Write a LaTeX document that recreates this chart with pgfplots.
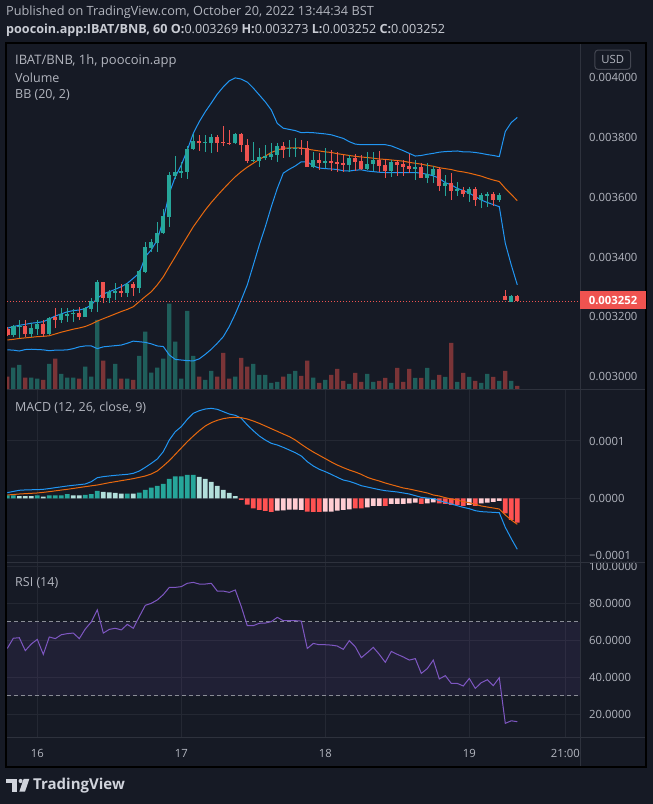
\documentclass[border=0pt]{standalone}
\usepackage{fontspec}
\setmainfont{Open Sans}
\usepackage{pgfplots}
\pgfplotsset{compat=1.18}
\usepackage{pgfplotstable}
\usepgfplotslibrary{fillbetween}

\definecolor{bg}{HTML}{161A25}
\definecolor{gridc}{HTML}{242833}
\definecolor{sepc}{HTML}{2E323D}
\definecolor{txt}{HTML}{B2B5BE}
\definecolor{txt2}{HTML}{C9CCD4}
\definecolor{cgreen}{HTML}{26A69A}
\definecolor{cred}{HTML}{EF5350}
\definecolor{vgreen}{HTML}{1F5E5B}
\definecolor{vred}{HTML}{7A3437}
\definecolor{bbblue}{HTML}{2196F3}
\definecolor{bborange}{HTML}{E8690E}
\definecolor{hteal}{HTML}{26A69A}
\definecolor{hlight}{HTML}{B2DFDB}
\definecolor{hred}{HTML}{FF5252}
\definecolor{hpink}{HTML}{FFCDD2}
\definecolor{rsic}{HTML}{7E57C2}
\definecolor{dashc}{HTML}{8A8D96}
\definecolor{usdc}{HTML}{434651}
\definecolor{logoc}{HTML}{D1D4DC}

\pgfplotstableread{
h O H L C V
-4 3140 3173 3132 3170 22.3
-3 3165 3188 3130 3168 25
-1 3143 3179 3134 3162 12.3
0 3160 3188 3140 3176 11.3
2 3143 3201 3140 3195 26
4 3190 3229 3179 3208 16
5 3204 3229 3184 3210 12.3
6 3208 3225 3184 3214 12.3
8 3201 3234 3199 3229 23.3
9 3227 3262 3218 3253 13.3
10 3251 3323 3218 3316 70
12 3264 3290 3248 3283 11.3
13 3280 3312 3257 3287 26
15 3281 3312 3268 3309 11.3
17 3298 3357 3279 3352 34
18 3351 3450 3346 3434 58.3
19 3430 3459 3418 3450 17.3
20 3448 3517 3418 3479 22.3
21 3479 3559 3477 3537 31.3
22 3535 3685 3501 3674 86.3
23 3672 3737 3659 3684 48.3
24 3680 3718 3663 3687 11.3
25 3685 3769 3660 3761 79
26 3760 3811 3758 3787 34
28 3782 3808 3752 3785 10
29 3782 3811 3746 3800 19
33 3779 3815 3777 3811 13.3
36 3721 3784 3718 3724 26
37 3722 3763 3702 3734 15
38 3732 3774 3724 3737 15
39 3735 3780 3724 3745 7
40 3741 3780 3718 3771 8
42 3760 3792 3733 3764 16
43 3760 3796 3735 3764 19
46 3702 3749 3696 3724 12.3
48 3715 3763 3696 3721 10
52 3707 3741 3685 3731 6
55 3694 3749 3690 3711 16
56 3710 3752 3688 3724 8
59 3687 3724 3668 3717 7
63 3694 3724 3657 3700 12
65 3664 3713 3646 3677 22
66 3674 3704 3648 3693 10
68 3637 3674 3604 3646 13
70 3622 3652 3604 3626 8
72 3612 3635 3585 3627 13
74 3590 3615 3562 3607 7
75 3605 3618 3568 3609 16
77 3590 3613 3585 3607 9
79 3251 3273 3249 3270 9
}\greentab

\pgfplotstableread{
h O H L C V
-5 3159 3165 3135 3139 13.3
-2 3170 3190 3134 3143 12.3
1 3176 3190 3134 3143 10
3 3199 3229 3162 3190 31.3
7 3212 3234 3190 3201 11.3
11 3316 3318 3245 3264 29.3
14 3287 3310 3265 3280 11.3
16 3310 3318 3271 3298 10
27 3787 3808 3755 3782 13.3
30 3800 3808 3752 3782 13.3
31 3784 3838 3769 3779 37
32 3782 3824 3774 3777 11.3
34 3811 3815 3749 3773 32
35 3774 3793 3713 3722 23.3
41 3771 3785 3730 3757 13.3
44 3764 3790 3741 3760 14
45 3763 3788 3700 3702 29.3
47 3724 3746 3691 3715 7
49 3721 3757 3688 3715 15
50 3717 3752 3685 3711 21
51 3715 3741 3685 3708 9
53 3731 3744 3688 3718 17
54 3721 3741 3691 3694 8
57 3724 3754 3685 3704 9
58 3707 3726 3665 3687 12
60 3717 3724 3671 3708 22
61 3711 3724 3671 3702 8
62 3704 3744 3680 3694 21
64 3702 3713 3663 3664 12
67 3693 3702 3621 3637 15
69 3646 3680 3590 3621 47
71 3624 3635 3599 3612 17
73 3627 3633 3570 3590 9
76 3610 3618 3570 3590 13
78 3270 3290 3257 3257 19
80 3269 3273 3252 3252 4
}\redtab

\pgfplotstableread{
h up mid lo
-5 3162 3123 3090
-4 3168 3125 3089
-3 3172 3128 3086
-2 3175 3130 3091
-1 3179 3132 3092
0 3181 3134 3091
1 3184 3135 3090
2 3193 3137 3087
3 3203 3143 3089
4 3210 3149 3089
5 3217 3154 3090
6 3221 3159 3094
7 3223 3163 3100
8 3228 3168 3103
9 3240 3176 3103
10 3262 3186 3094
11 3277 3194 3100
12 3284 3202 3102
13 3292 3210 3104
14 3301 3218 3106
15 3312 3225 3112
16 3329 3234 3119
17 3346 3251 3117
18 3401 3268 3115
19 3424 3284 3110
20 3457 3307 3103
21 3524 3334 3101
22 3613 3368 3073
23 3668 3401 3058
24 3707 3435 3056
25 3757 3468 3054
26 3813 3501 3053
27 3852 3529 3060
28 3885 3557 3075
29 3914 3582 3092
30 3944 3605 3112
31 3968 3627 3134
32 3988 3648 3168
33 3998 3668 3210
34 3994 3685 3257
35 3984 3700 3307
36 3964 3713 3373
37 3941 3726 3440
38 3918 3737 3501
39 3891 3749 3568
40 3846 3757 3629
41 3830 3763 3680
42 3826 3764 3693
43 3822 3764 3704
44 3815 3764 3718
45 3816 3760 3718
46 3815 3757 3704
47 3813 3754 3697
48 3811 3751 3695
49 3808 3749 3694
50 3802 3745 3692
51 3796 3742 3688
52 3785 3739 3687
53 3777 3736 3690
54 3775 3734 3691
55 3775 3732 3687
56 3775 3730 3685
57 3775 3727 3683
58 3775 3726 3682
59 3771 3724 3682
60 3763 3722 3682
61 3755 3720 3682
62 3746 3716 3682
63 3737 3713 3682
64 3739 3710 3680
65 3743 3706 3676
66 3746 3703 3671
67 3750 3698 3663
68 3752 3695 3648
69 3753 3692 3641
70 3754 3687 3629
71 3751 3684 3622
72 3751 3680 3613
73 3749 3675 3602
74 3746 3670 3590
75 3742 3663 3582
76 3739 3657 3575
77 3735 3652 3568
78 3819 3629 3446
79 3849 3609 3373
80 3866 3588 3307
}\bbtab

\pgfplotstableread{
h m s
-5 9.8 5.8
-4 12 6.6
-3 14 7.5
-2 14.6 8.1
-1 14.9 8.7
0 15.1 9.3
1 15.7 10.4
2 17 11.6
3 18.6 13
4 20 14.4
5 21.5 15.7
6 22.7 17.2
7 23.8 18.8
8 25 20.3
9 29 21.8
10 36 23.2
11 37.8 25.2
12 39 27.3
13 40.1 29
14 41 30.8
15 41.8 32.5
16 43.6 34.3
17 47.6 36.6
18 54 38.9
19 61 42.4
20 68.6 47.6
21 81.4 56.4
22 101.7 65.7
23 116.3 76.7
24 125 87.8
25 137.8 98.8
26 148.3 108.7
27 152.9 118
28 155.8 126.2
29 157 132
30 155.3 136.1
31 151.2 139
32 147.1 140.7
33 144.8 141.3
34 139.6 140.7
35 127.9 138.4
36 118 134.9
37 108.7 130.8
38 101.7 126.2
39 95.9 121.5
40 93 116.9
41 88.9 112.2
42 84.3 107.6
43 79.6 101.7
44 73.8 94.2
45 63.9 87.2
46 56.4 80.8
47 50.6 75
48 46.5 69.2
49 41.8 63.4
50 36.6 58.1
51 31.9 53.5
52 29.6 49.4
53 26.1 45.9
54 22 41.8
55 19.7 36.6
56 17.4 33.1
57 15.1 30.2
58 13.3 26.7
59 12.2 23.8
60 11 20.9
61 9.3 18
62 7.5 16.2
63 4.6 13.9
64 1.7 11.6
65 0.5 9.3
66 -0.6 5.8
67 -4.1 4
68 -7 1.1
69 -9.9 -1.2
70 -12.9 -3
71 -15.8 -5.9
72 -18.1 -7.6
73 -21.6 -10.5
74 -23.3 -13.4
75 -23.9 -15.2
76 -24.5 -16.9
77 -25.1 -18.7
78 -50.7 -29.1
79 -70.4 -37.9
80 -89 -45.4
}\macdtab

\pgfplotstableread{
h v
-5 5.2
-4 5.2
0 5.2
2 5.2
3 5.2
4 5.2
5 7.5
8 5.8
9 7.5
10 12.8
15 8.1
17 9.9
18 14.5
19 18.6
20 21.5
21 25
22 33.7
23 38.4
24 38.4
25 40.7
26 40.7
}\htealtab

\pgfplotstableread{
h v
-3 4
-2 4
-1 4
1 3
6 5.2
7 5.2
11 11
12 10.5
13 9.3
14 8.1
16 8.1
27 37.2
28 33.7
29 28.5
30 21.5
31 14.5
32 9.3
33 4
}\hlighttab

\pgfplotstableread{
h v
34 -2.9
35 -11
36 -17.5
37 -20.4
38 -22.1
39 -23.9
45 -23.3
46 -23.9
47 -23.9
53 -17.5
54 -17.5
58 -13.4
64 -9.9
67 -8.7
68 -9.9
69 -11.6
70 -11.6
71 -13.4
73 -13.4
78 -26.2
79 -37.8
80 -42.5
}\hredtab

\pgfplotstableread{
h v
40 -21.5
41 -21
42 -19.8
43 -19.8
44 -20.4
48 -23.3
49 -23.3
50 -21.5
51 -20.4
52 -19.2
55 -15.7
56 -13.4
57 -13.4
59 -9.9
60 -9.9
61 -9.9
62 -8.7
63 -7.6
65 -8.7
66 -7
72 -11.6
74 -8.7
75 -7.6
76 -6.4
77 -4.7
}\hpinktab

\pgfplotstableread{
h r
-5 55.6
-4 61.1
-3 61.4
-2 54.4
-1 58
0 60.5
1 52.4
2 61.8
3 60.9
4 63.0
5 63.6
6 63.9
7 60.9
8 66.1
9 69.9
10 76.4
11 63.9
12 65.9
13 66.5
14 65.6
15 68.6
16 66.5
17 72.8
18 78.9
19 80
20 81.8
21 84.7
22 88.6
23 88.6
24 89
25 90.8
26 91.3
27 90.4
28 90.4
29 90.8
30 86.6
31 86.6
32 85.9
33 87.2
34 78.2
35 67.9
36 67.9
37 69.2
38 69.3
39 70.1
40 72.4
41 70.6
42 70.6
43 70.6
44 70.4
45 55.6
46 58.3
47 57.6
48 57.6
49 57.4
50 56.9
51 55.1
52 59.8
53 56.5
54 50.6
55 53.3
56 56.2
57 52.4
58 48.1
59 54
60 52.4
61 51
62 49.3
63 50.1
64 42.1
65 44.7
66 49.3
67 39.1
68 40.9
69 36.7
70 36.7
71 35.3
72 39.4
73 34
74 37.1
75 38.7
76 35.5
77 39.8
78 15.1
79 16.5
80 16
}\rsitab

\newcommand{\scalefont}{\fontsize{11.3}{12}\selectfont}
\newcommand{\titlefont}{\fontsize{12.5}{14}\selectfont}

\pgfplotsset{
  tvbase/.style={
    scale only axis, anchor=south west, width=573pt,
    xmin=-5.05, xmax=90.45,
    axis line style={draw=none},
    xtick={0,24,48,72,88}, xticklabels={},
    tick style={draw=none}, major tick length=0pt,
    yticklabel pos=right,
    yticklabel style={anchor=west, inner sep=0pt, xshift=9pt, font=\scalefont, text=txt},
    grid=major, grid style={draw=gridc, line width=1pt},
  },
  tvhide/.style={
    scale only axis, anchor=south west, width=573pt,
    xmin=-5.05, xmax=90.45, hide axis,
  },
  wick/.style={only marks, mark size=0pt, mark options={draw=none, fill=none},
    error bars/.cd, y dir=plus, y explicit, error mark=none,
    error bar style={#1, line width=1pt}},
  body/.style={only marks, mark size=0pt, mark options={draw=none, fill=none},
    error bars/.cd, y dir=plus, y explicit, error mark=none,
    error bar style={#1, line width=4.4pt}},
}

\begin{document}
\begin{tikzpicture}
\fill[bg] (0pt,0pt) rectangle (653pt,804pt);

% ---------- price pane: grid + BB fill ----------
\begin{axis}[tvbase, at={(7pt,414pt)}, height=346pt, ymin=2955.9, ymax=4111.2,
  ytick={3000,3200,3400,3600,3800,4000},
  yticklabels={0.003000,0.003200,0.003400,0.003600,0.003800,0.004000}]
\addplot[draw=none, name path=up] table[x=h,y=up]{\bbtab};
\addplot[draw=none, name path=lo] table[x=h,y=lo]{\bbtab};
\addplot[fill=bbblue, fill opacity=0.08, draw=none] fill between[of=up and lo];
\end{axis}

% ---------- volume ----------
\begin{axis}[tvhide, at={(7pt,414pt)}, height=346pt, ymin=0, ymax=346]
\addplot[ybar, bar width=4.3pt, bar shift=0pt, fill=vgreen, draw=none] table[x=h,y=V]{\greentab};
\addplot[ybar, bar width=4.3pt, bar shift=0pt, fill=vred, draw=none] table[x=h,y=V]{\redtab};
\end{axis}

% ---------- BB lines + candles ----------
\begin{axis}[tvhide, at={(7pt,414pt)}, height=346pt, ymin=2955.9, ymax=4111.2]
\addplot[bbblue, line width=1pt] table[x=h,y=up]{\bbtab};
\addplot[bbblue, line width=1pt] table[x=h,y=lo]{\bbtab};
\addplot[bborange, line width=1pt] table[x=h,y=mid]{\bbtab};
\addplot[cred, line width=1pt, dash pattern=on 1pt off 2pt] coordinates {(-5.05,3252) (90.45,3252)};
\addplot[wick=cgreen] table[x=h, y=L, y error expr=\thisrow{H}-\thisrow{L}]{\greentab};
\addplot[wick=cred] table[x=h, y=L, y error expr=\thisrow{H}-\thisrow{L}]{\redtab};
\addplot[body=cgreen] table[x=h, y=O, y error expr=\thisrow{C}-\thisrow{O}]{\greentab};
\addplot[body=cred] table[x=h, y=C, y error expr=\thisrow{O}-\thisrow{C}]{\redtab};
\end{axis}

% ---------- MACD ----------
\begin{axis}[tvbase, at={(7pt,241pt)}, height=173pt, ymin=-112.9, ymax=189.0,
  ytick={-100,0,100}, yticklabels={−0.0001,0.0000,0.0001}]
\addplot[ybar, bar width=4.6pt, bar shift=0pt, fill=hteal, draw=none] table[x=h,y=v]{\htealtab};
\addplot[ybar, bar width=4.6pt, bar shift=0pt, fill=hlight, draw=none] table[x=h,y=v]{\hlighttab};
\addplot[ybar, bar width=4.6pt, bar shift=0pt, fill=hred, draw=none] table[x=h,y=v]{\hredtab};
\addplot[ybar, bar width=4.6pt, bar shift=0pt, fill=hpink, draw=none] table[x=h,y=v]{\hpinktab};
\addplot[bbblue, line width=1pt] table[x=h,y=m]{\macdtab};
\addplot[bborange, line width=1pt] table[x=h,y=s]{\macdtab};
\end{axis}

% ---------- RSI ----------
\begin{axis}[tvbase, at={(7pt,66pt)}, height=175pt, ymin=7.19, ymax=101.78,
  ytick={20,40,60,80,100},
  yticklabels={20.0000,40.0000,60.0000,80.0000,100.0000},
  xticklabels={16,17,18,19,21:00},
  xticklabel style={anchor=center, inner sep=0pt, yshift=-15pt, font=\scalefont, text=txt}]
\fill[rsic, fill opacity=0.1] (axis cs:-5.05,30) rectangle (axis cs:90.45,70);
\addplot[dashc, line width=1pt, dash pattern=on 4pt off 3pt] coordinates {(-5.05,70) (90.45,70)};
\addplot[dashc, line width=1pt, dash pattern=on 4pt off 3pt] coordinates {(-5.05,30) (90.45,30)};
\addplot[rsic, line width=1pt] table[x=h,y=r]{\rsitab};
\end{axis}

\begin{scope}[x=1pt,y=1pt]
% ---------- separators and frame ----------
\draw[sepc, line width=1pt] (6,414) -- (646,414);
\draw[sepc, line width=1pt] (6,241) -- (646,241);
\draw[sepc, line width=1pt] (6,66) -- (646,66);
\draw[sepc, line width=1pt] (580.5,37) -- (580.5,761);
\draw[black, line width=1.5pt] (6,37) rectangle (646,761);

% price label and USD box
\node[fill=cred, text=white, font=\bfseries\scalefont, minimum width=66pt, minimum height=18.6pt, inner sep=0pt] at (613,504) {0.003252};
\node[draw=usdc, line width=1pt, rounded corners=3pt, text=txt, font=\scalefont, minimum width=35.7pt, minimum height=19.3pt, inner sep=0pt] at (612.8,744.3) {USD};

% pane titles
\node[anchor=west, inner sep=0pt, text=txt, font=\fontsize{13}{15}\selectfont] at (15,743) {IBAT/BNB, 1h, poocoin.app};
\node[anchor=west, inner sep=0pt, text=txt, font=\titlefont] at (15,726) {Volume};
\node[anchor=west, inner sep=0pt, text=txt, font=\titlefont] at (15,709) {BB (20, 2)};
\node[anchor=west, inner sep=0pt, text=txt, font=\titlefont] at (15,396) {MACD (12, 26, close, 9)};
\node[anchor=west, inner sep=0pt, text=txt, font=\titlefont] at (15,221.3) {RSI (14)};

% header
\node[anchor=west, inner sep=0pt, text=txt, font=\fontsize{12.7}{14}\selectfont] at (6,791.3) {Published on TradingView.com, October 20, 2022 13:44:34 BST};
\node[anchor=west, inner sep=0pt, text=txt2, font=\fontsize{12.6}{14}\selectfont] at (6,774) {\textbf{poocoin.app:IBAT/BNB, 60 O:}0.003269 \textbf{H:}0.003273 \textbf{L:}0.003252 \textbf{C:}0.003252};

% TradingView logo
\fill[logoc] (6,21) rectangle (17.3,25);
\fill[logoc] (11.7,12.3) rectangle (17.3,25);
\fill[logoc] (20.6,23) circle (2.1);
\fill[logoc] (19.3,12.3) -- (25,12.3) -- (29.3,25) -- (23.6,25) -- cycle;
\node[anchor=west, inner sep=0pt, text=logoc, font=\bfseries\fontsize{15}{17}\selectfont] at (33,18.5) {TradingView};
\end{scope}

\pgfresetboundingbox
\useasboundingbox (0pt,0pt) rectangle (653pt,804pt);
\end{tikzpicture}
\end{document}
